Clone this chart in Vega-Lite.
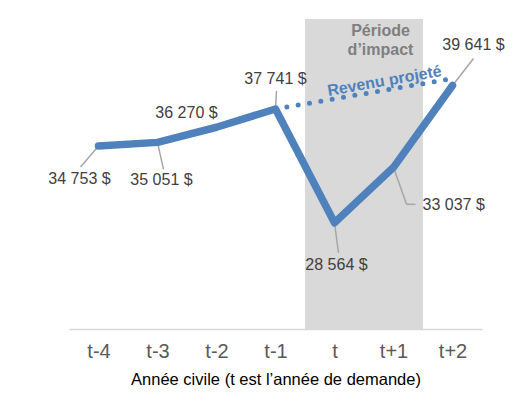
{
  "$schema": "https://vega.github.io/schema/vega-lite/v6.json",
  "width": 413,
  "height": 310,
  "autosize": "none",
  "padding": {"left": 69, "top": 19, "right": 32, "bottom": 71},
  "config": {"view": {"stroke": null}, "font": "Liberation Sans"},
  "datasets": {
    "main": [
      {"annee": "t-4", "revenu": 34753, "etiquette": "34 753 $"},
      {"annee": "t-3", "revenu": 35051, "etiquette": "35 051 $"},
      {"annee": "t-2", "revenu": 36270, "etiquette": "36 270 $"},
      {"annee": "t-1", "revenu": 37741, "etiquette": "37 741 $"},
      {"annee": "t", "revenu": 28564, "etiquette": "28 564 $"},
      {"annee": "t+1", "revenu": 33037, "etiquette": "33 037 $"},
      {"annee": "t+2", "revenu": 39641, "etiquette": "39 641 $"}
    ],
    "projete": [
      {"annee": "t-1", "revenu": 37741},
      {"annee": "t+2", "revenu": 40200}
    ],
    "periode": [
      {"annee": "t", "debut": 45000, "fin": 20000},
      {"annee": "t+1", "debut": 45000, "fin": 20000}
    ],
    "notes": [
      {"annee": "t+1", "revenu": 45000, "texte": ["Période", "d’impact"]},
      {"annee": "t", "revenu": 40000, "texte": "Revenu projeté"}
    ]
  },
  "encoding": {
    "x": {
      "field": "annee",
      "type": "ordinal",
      "scale": {"type": "point", "domain": ["t-4", "t-3", "t-2", "t-1", "t", "t+1", "t+2"], "padding": 0.5},
      "axis": {
        "title": "Année civile (t est l’année de demande)",
        "labelAngle": 0,
        "ticks": false,
        "domainColor": "#d9d9d9",
        "domainWidth": 1.5,
        "labelFontSize": 20,
        "labelColor": "#595959",
        "labelPadding": 12,
        "titleFontSize": 16.5,
        "titleFontWeight": "normal",
        "titleColor": "#000000",
        "titlePadding": 10
      }
    },
    "y": {"field": "revenu", "type": "quantitative", "scale": {"domain": [20000, 45000]}, "axis": null}
  },
  "layer": [
    {
      "data": {"name": "periode"},
      "mark": {"type": "rect", "color": "#d9d9d9", "xOffset": -29.5, "x2Offset": 29.5},
      "encoding": {
        "x2": {"field": "annee"},
        "y": {"field": "debut", "type": "quantitative"},
        "y2": {"field": "fin"}
      }
    },
    {
      "data": {"name": "notes"},
      "transform": [{"filter": "datum.annee == 't+1'"}],
      "mark": {"type": "text", "fontSize": 16, "fontWeight": "bold", "color": "#7f7f7f", "align": "center", "baseline": "middle", "lineHeight": 19, "dx": -13, "dy": 12},
      "encoding": {"text": {"field": "texte"}}
    },
    {
      "data": {"name": "projete"},
      "mark": {"type": "line", "color": "#4f81bd", "strokeWidth": 5, "strokeCap": "round", "strokeDash": [0, 11.5]}
    },
    {
      "data": {"name": "main"},
      "transform": [{"filter": "datum.annee == 't-4'"}],
      "mark": {"type": "rule", "color": "#a6a6a6", "strokeWidth": 1.5, "x2Offset": -18, "y2Offset": 21},
      "encoding": {"x2": {"field": "annee"}, "y2": {"field": "revenu"}}
    },
    {
      "data": {"name": "main"},
      "transform": [{"filter": "datum.annee == 't-3'"}],
      "mark": {"type": "rule", "color": "#a6a6a6", "strokeWidth": 1.5, "x2Offset": 6, "y2Offset": 27},
      "encoding": {"x2": {"field": "annee"}, "y2": {"field": "revenu"}}
    },
    {
      "data": {"name": "main"},
      "transform": [{"filter": "datum.annee == 't-1'"}],
      "mark": {"type": "rule", "color": "#a6a6a6", "strokeWidth": 1.5, "x2Offset": 1, "y2Offset": -18},
      "encoding": {"x2": {"field": "annee"}, "y2": {"field": "revenu"}}
    },
    {
      "data": {"name": "main"},
      "transform": [{"filter": "datum.annee == 't'"}],
      "mark": {"type": "rule", "color": "#a6a6a6", "strokeWidth": 1.5, "x2Offset": 4, "y2Offset": 30},
      "encoding": {"x2": {"field": "annee"}, "y2": {"field": "revenu"}}
    },
    {
      "data": {"name": "main"},
      "transform": [{"filter": "datum.annee == 't+1'"}],
      "mark": {"type": "rule", "color": "#a6a6a6", "strokeWidth": 1.5, "x2Offset": 13, "y2Offset": 37},
      "encoding": {"x2": {"field": "annee"}, "y2": {"field": "revenu"}}
    },
    {
      "data": {"name": "main"},
      "transform": [{"filter": "datum.annee == 't+1'"}],
      "mark": {"type": "rule", "color": "#a6a6a6", "strokeWidth": 1.5, "xOffset": 13, "yOffset": 37, "x2Offset": 22, "y2Offset": 37},
      "encoding": {"x2": {"field": "annee"}, "y2": {"field": "revenu"}}
    },
    {
      "data": {"name": "main"},
      "transform": [{"filter": "datum.annee == 't+2'"}],
      "mark": {"type": "rule", "color": "#a6a6a6", "strokeWidth": 1.5, "x2Offset": 21, "y2Offset": -27},
      "encoding": {"x2": {"field": "annee"}, "y2": {"field": "revenu"}}
    },
    {
      "data": {"name": "main"},
      "mark": {"type": "line", "color": "#4f81bd", "strokeWidth": 7.5, "strokeCap": "round", "strokeJoin": "round"}
    },
    {
      "data": {"name": "main"},
      "transform": [{"filter": "datum.annee == 't-4'"}],
      "mark": {"type": "text", "fontSize": 16, "color": "#404040", "align": "center", "baseline": "middle", "dx": -19, "dy": 33},
      "encoding": {"text": {"field": "etiquette"}}
    },
    {
      "data": {"name": "main"},
      "transform": [{"filter": "datum.annee == 't-3'"}],
      "mark": {"type": "text", "fontSize": 16, "color": "#404040", "align": "center", "baseline": "middle", "dx": 4, "dy": 38},
      "encoding": {"text": {"field": "etiquette"}}
    },
    {
      "data": {"name": "main"},
      "transform": [{"filter": "datum.annee == 't-2'"}],
      "mark": {"type": "text", "fontSize": 16, "color": "#404040", "align": "center", "baseline": "middle", "dx": -30, "dy": -14},
      "encoding": {"text": {"field": "etiquette"}}
    },
    {
      "data": {"name": "main"},
      "transform": [{"filter": "datum.annee == 't-1'"}],
      "mark": {"type": "text", "fontSize": 16, "color": "#404040", "align": "center", "baseline": "middle", "dx": 0, "dy": -30},
      "encoding": {"text": {"field": "etiquette"}}
    },
    {
      "data": {"name": "main"},
      "transform": [{"filter": "datum.annee == 't'"}],
      "mark": {"type": "text", "fontSize": 16, "color": "#404040", "align": "center", "baseline": "middle", "dx": 2, "dy": 42},
      "encoding": {"text": {"field": "etiquette"}}
    },
    {
      "data": {"name": "main"},
      "transform": [{"filter": "datum.annee == 't+1'"}],
      "mark": {"type": "text", "fontSize": 16, "color": "#404040", "align": "left", "baseline": "middle", "dx": 29, "dy": 38},
      "encoding": {"text": {"field": "etiquette"}}
    },
    {
      "data": {"name": "main"},
      "transform": [{"filter": "datum.annee == 't+2'"}],
      "mark": {"type": "text", "fontSize": 16, "color": "#404040", "align": "center", "baseline": "middle", "dx": 21, "dy": -40},
      "encoding": {"text": {"field": "etiquette"}}
    },
    {
      "data": {"name": "notes"},
      "transform": [{"filter": "datum.annee == 't'"}],
      "mark": {"type": "text", "fontSize": 16, "fontWeight": "bold", "color": "#4f81bd", "align": "center", "baseline": "middle", "angle": -10, "xOffset": 50},
      "encoding": {"text": {"field": "texte"}}
    }
  ]
}
